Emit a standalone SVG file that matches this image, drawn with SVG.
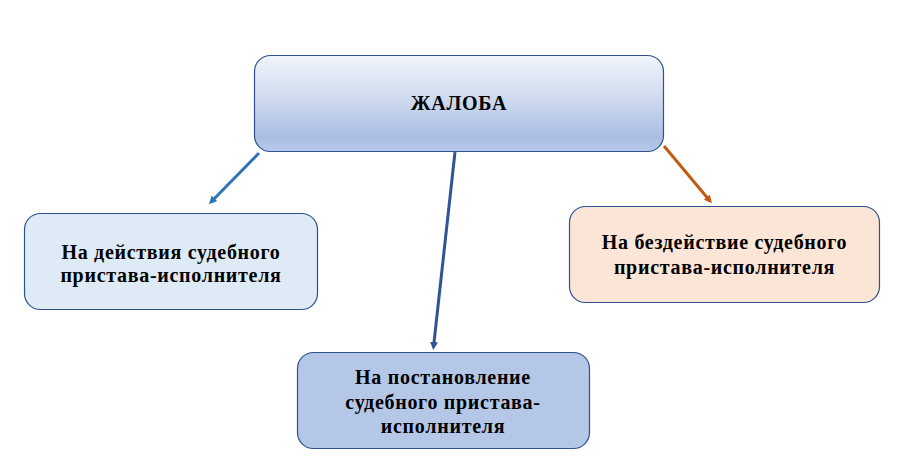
<svg xmlns="http://www.w3.org/2000/svg" width="909" height="476" viewBox="0 0 909 476">
<style>
  .box { stroke: #2F528F; stroke-width: 1.2; }
  .t { font-family: "Liberation Serif", "Times New Roman", serif; font-weight: bold; font-size: 20px; letter-spacing: 0.7px; fill: #000; text-anchor: middle; }
  .c { fill: none; stroke-width: 3; }
</style>
<defs>
  <linearGradient id="g" x1="0" y1="0" x2="0" y2="1">
    <stop offset="0" stop-color="#F1F4FB"/>
    <stop offset="0.5" stop-color="#CBD7EE"/>
    <stop offset="0.85" stop-color="#A9BDE3"/>
    <stop offset="1" stop-color="#B8C9EA"/>
  </linearGradient>
  <marker id="a1" markerWidth="8" markerHeight="8" refX="5" refY="4" orient="auto" markerUnits="userSpaceOnUse" viewBox="0 0 8 8">
    <path d="M0,0 L8,4 L0,8 z" fill="#2E75B6"/>
  </marker>
  <marker id="a2" markerWidth="8" markerHeight="8" refX="5" refY="4" orient="auto" markerUnits="userSpaceOnUse" viewBox="0 0 8 8">
    <path d="M0,0 L8,4 L0,8 z" fill="#2F5597"/>
  </marker>
  <marker id="a3" markerWidth="8" markerHeight="8" refX="5" refY="4" orient="auto" markerUnits="userSpaceOnUse" viewBox="0 0 8 8">
    <path d="M0,0 L8,4 L0,8 z" fill="#C55A11"/>
  </marker>
</defs>
<rect width="909" height="476" fill="#FFFFFF"/>
<g id="connectors">
  <line class="c" x1="259" y1="153" x2="211" y2="202" stroke="#2E75B6" marker-end="url(#a1)"/>
  <line class="c" x1="455" y1="152" x2="433.5" y2="347" stroke="#2F5597" marker-end="url(#a2)"/>
  <line class="c" x1="664" y1="146" x2="710" y2="201" stroke="#C55A11" marker-end="url(#a3)"/>
</g>
<g id="main">
  <rect class="box" x="254.5" y="55.5" width="409" height="96" rx="16" fill="url(#g)"/>
  <text class="t" x="459" y="110">ЖАЛОБА</text>
</g>
<g id="left">
  <rect class="box" x="24.5" y="213.5" width="293" height="96" rx="16" fill="#DEEBF7"/>
  <text class="t" x="171" y="259">На действия судебного</text>
  <text class="t" x="171" y="282">пристава-исполнителя</text>
</g>
<g id="right">
  <rect class="box" x="569.5" y="206.5" width="310" height="96" rx="16" fill="#FBE5D6"/>
  <text class="t" x="724.5" y="249">На бездействие судебного</text>
  <text class="t" x="724.5" y="274">пристава-исполнителя</text>
</g>
<g id="bottom">
  <rect class="box" x="297.5" y="352.5" width="292" height="96" rx="16" fill="#B4C7E7"/>
  <text class="t" x="443" y="384">На постановление</text>
  <text class="t" x="443" y="409">судебного пристава-</text>
  <text class="t" x="443" y="433">исполнителя</text>
</g>
</svg>
